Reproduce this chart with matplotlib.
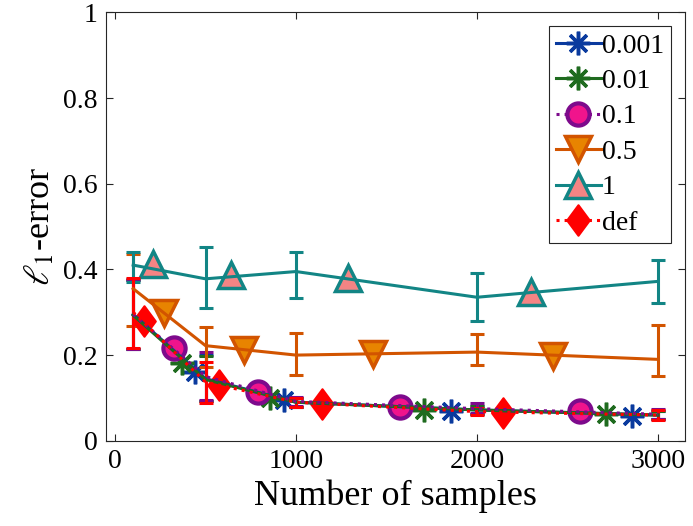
import numpy as np
import matplotlib
matplotlib.use("Agg")
import matplotlib.pyplot as plt
from matplotlib.lines import Line2D
from matplotlib.path import Path

plt.rcParams['font.family'] = ['Liberation Serif', 'DejaVu Serif']
plt.rcParams['mathtext.fontset'] = 'stix'

# sample sizes where the error bars sit
n_samples = [100, 500, 1000, 2000, 3000]

# mean l1-error and error bar ends (low / high) per parameter value
mean_0001 = [0.295, 0.145, 0.090, 0.072, 0.060]
low_0001 = [0.215, 0.092, 0.080, 0.063, 0.050]
high_0001 = [0.378, 0.200, 0.100, 0.082, 0.070]

mean_001 = [0.293, 0.143, 0.090, 0.072, 0.060]
low_001 = [0.214, 0.092, 0.080, 0.063, 0.050]
high_001 = [0.376, 0.198, 0.100, 0.082, 0.070]

mean_01 = [0.295, 0.150, 0.092, 0.075, 0.062]
low_01 = [0.214, 0.095, 0.082, 0.065, 0.050]
high_01 = [0.376, 0.207, 0.102, 0.088, 0.074]

mean_05 = [0.355, 0.222, 0.200, 0.207, 0.190]
low_05 = [0.268, 0.173, 0.153, 0.177, 0.151]
high_05 = [0.436, 0.266, 0.251, 0.249, 0.270]

mean_1 = [0.410, 0.378, 0.395, 0.335, 0.372]
low_1 = [0.370, 0.310, 0.333, 0.280, 0.322]
high_1 = [0.440, 0.452, 0.440, 0.392, 0.422]

mean_def = [0.300, 0.137, 0.090, 0.068, 0.060]
low_def = [0.216, 0.089, 0.080, 0.060, 0.048]
high_def = [0.379, 0.185, 0.100, 0.076, 0.072]

# marker positions along each curve
mk_x_0001 = [444, 932, 1856, 2856]
mk_y_0001 = [0.161, 0.095, 0.069, 0.057]
mk_x_001 = [370, 858, 1709, 2714]
mk_y_001 = [0.181, 0.100, 0.072, 0.062]
mk_x_01 = [328, 788, 1572, 2571]
mk_y_01 = [0.216, 0.114, 0.080, 0.070]
mk_x_05 = [269, 711, 1427, 2422]
mk_y_05 = [0.298, 0.212, 0.202, 0.198]
mk_x_1 = [212, 643, 1289, 2297]
mk_y_1 = [0.412, 0.388, 0.380, 0.348]
mk_x_def = [158, 573, 1143, 2145]
mk_y_def = [0.280, 0.130, 0.085, 0.066]

labels = ['0.001', '0.01', '0.1', '0.5', '1', 'def']

# MATLAB-like tall diamond
diamond = Path([(0, 1), (0.74, 0), (0, -1), (-0.74, 0), (0, 1)],
               [Path.MOVETO, Path.LINETO, Path.LINETO, Path.LINETO, Path.CLOSEPOLY])

series = [
    dict(m=mean_0001, lo=low_0001, hi=high_0001, mx=mk_x_0001, my=mk_y_0001,
         c='#0a3a9e', ls='-', marker=(8, 2, 0), ms=17, mfc='#0a3a9e', mec='#0a3a9e', mew=2.5),
    dict(m=mean_001, lo=low_001, hi=high_001, mx=mk_x_001, my=mk_y_001,
         c='#1f6b1f', ls='-', marker=(8, 2, 0), ms=17, mfc='#1f6b1f', mec='#1f6b1f', mew=2.5),
    dict(m=mean_01, lo=low_01, hi=high_01, mx=mk_x_01, my=mk_y_01,
         c='#7d0a8c', ls=':', marker='o', ms=16, mfc='#f0148c', mec='#7d0a8c', mew=3),
    dict(m=mean_05, lo=low_05, hi=high_05, mx=mk_x_05, my=mk_y_05,
         c='#d25400', ls='-', marker='v', ms=19, mfc='#e88400', mec='#d25400', mew=2.5),
    dict(m=mean_1, lo=low_1, hi=high_1, mx=mk_x_1, my=mk_y_1,
         c='#128585', ls='-', marker='^', ms=19, mfc='#f48484', mec='#128585', mew=2.5),
    dict(m=mean_def, lo=low_def, hi=high_def, mx=mk_x_def, my=mk_y_def,
         c='#ff0000', ls=':', marker=diamond, ms=22, mfc='#ff0000', mec='#ff0000', mew=1.5),
]

fig = plt.figure(figsize=(6.93, 5.26), dpi=100)
ax = fig.add_axes([0.153, 0.162, 0.8355, 0.8146])

handles = []
for s in series:
    m = np.array(s['m'])
    yerr = [m - np.array(s['lo']), np.array(s['hi']) - m]
    ax.errorbar(n_samples, m, yerr=yerr, color=s['c'], ls=s['ls'], lw=2.2,
                capsize=5, capthick=2.2, elinewidth=2.2)
    ax.plot(s['mx'], s['my'], ls='none', marker=s['marker'], ms=s['ms'],
            mfc=s['mfc'], mec=s['mec'], mew=s['mew'])
    handles.append(Line2D([], [], color=s['c'], ls=s['ls'], lw=2.2, marker=s['marker'],
                          ms=s['ms'], mfc=s['mfc'], mec=s['mec'], mew=s['mew']))

ax.set_xlim(-50, 3150)
ax.set_ylim(0, 1)
ax.set_xticks([0, 1000, 2000, 3000])
ax.set_yticks([0, 0.2, 0.4, 0.6, 0.8, 1])
ax.set_yticklabels(['0', '0.2', '0.4', '0.6', '0.8', '1'])
ax.tick_params(direction='in', top=True, right=True, labelsize=20, length=5,
               width=0.8, color='#262626', pad=6)
for sp in ax.spines.values():
    sp.set_color('#262626')
    sp.set_linewidth(0.8)

ax.set_xlabel('Number of samples', fontsize=26, labelpad=4)
ax.set_ylabel(r'$\ell_1$-error', fontsize=26, labelpad=4)

leg = ax.legend(handles, labels, loc='upper right', fontsize=20, handlelength=1.6,
                handletextpad=0.05, labelspacing=0.36, borderpad=0.25,
                borderaxespad=0.5, fancybox=False, framealpha=1, edgecolor='#262626')
leg.get_frame().set_linewidth(0.8)

fig.savefig('out.png', dpi=100)
